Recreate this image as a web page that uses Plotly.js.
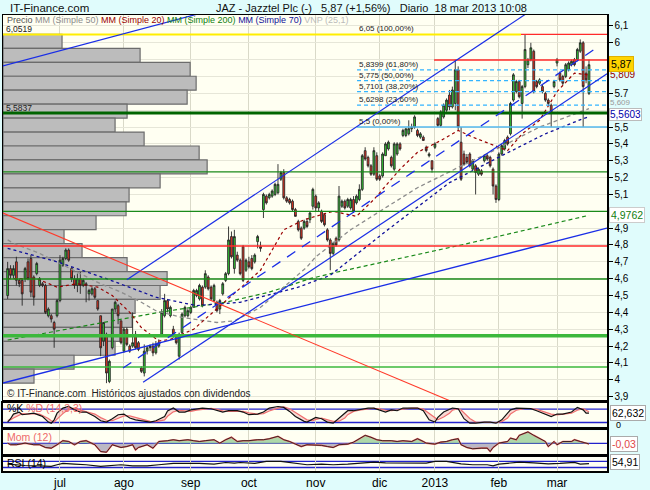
<!DOCTYPE html>
<html><head><meta charset="utf-8">
<script src="https://cdn.plot.ly/plotly-3.0.1.min.js"></script>
<style>html,body{margin:0;padding:0;background:#e0fcfc;overflow:hidden}#chart{width:650px;height:490px}</style>
</head><body><div id="chart"></div>
<script>
// ---------------- DATA ----------------
const firstDay = '2012-06-06', lastDay = '2013-03-18';
const marketHolidays = ['2012-12-25', '2012-12-26', '2013-01-01'];
const monthLabels = ['jul', 'ago', 'sep', 'oct', 'nov', 'dic', '2013', 'feb', 'mar'];

const open = [4.50,4.66,4.62,4.70,4.59,4.59,4.60,4.70,4.72,4.61, 4.63,4.56,4.57,4.56,4.38,4.38,4.34,4.38,4.47,4.68,
 4.72,4.77,4.66,4.60,4.56,4.60,4.56,4.57,4.51,4.51, 4.54,4.47,4.38,4.23,4.27,3.99,4.19,4.42,4.44,4.35,
 4.17,4.30,4.20,4.20,4.27,4.22,4.07,4.04,4.17,4.19, 4.20,4.16,4.20,4.27,4.38,4.47,4.38,4.30,4.26,4.14,
 4.28,4.38,4.38,4.40,4.43,4.50,4.48,4.55,4.55,4.61, 4.55,4.47,4.46,4.42,4.51,4.59,4.63,4.85,4.66,4.74,
 4.71,4.79,4.65,4.70,4.72,4.70,4.82,4.79,5.01,5.09, 5.08,5.09,5.10,5.11,5.19,5.23,5.08,5.07,5.06,5.01,
 4.94,4.90,4.90,4.94,4.95,5.03,5.09,5.02,5.00,4.98, 4.89,4.83,4.75,4.84,4.83,5.03,5.06,5.03,5.02,5.07,
 5.05,5.07,5.13,5.36,5.32,5.27,5.22,5.33,5.21,5.21, 5.33,5.37,5.32,5.25,5.34,5.40,5.45,5.45,5.46,5.49,
 5.50,5.48,5.44,5.44,5.38,5.33,5.30,5.38,5.55,5.51, 5.56,5.60,5.69,5.62,5.64,5.84,5.41,5.34,5.32,5.34,
 5.25,5.27,5.22,5.24,5.30,5.33,5.32,5.25,5.15,5.07, 5.34,5.37,5.44,5.46,5.66,5.71,5.77,5.64,5.74,5.87,
 5.90,5.95,5.77,5.76,5.74,5.70,5.66,5.63,5.74,5.88, 5.82,5.80,5.80,5.84,5.87,5.90,5.90,5.95,6.00,5.82,
 5.70];
const high = [4.70,4.68,4.68,4.73,4.60,4.60,4.67,4.72,4.74,4.62, 4.70,4.61,4.58,4.57,4.43,4.39,4.35,4.48,4.74,4.73,
 4.78,4.78,4.67,4.62,4.63,4.64,4.60,4.58,4.54,4.55, 4.55,4.47,4.38,4.34,4.28,4.12,4.42,4.47,4.45,4.35,
 4.31,4.31,4.21,4.40,4.29,4.23,4.08,4.21,4.20,4.21, 4.22,4.23,4.24,4.42,4.51,4.48,4.44,4.32,4.27,4.28,
 4.40,4.44,4.42,4.44,4.54,4.54,4.57,4.56,4.65,4.62, 4.56,4.57,4.47,4.48,4.58,4.64,4.91,4.88,4.89,4.76,
 4.72,4.80,4.72,4.73,4.74,4.75,4.86,4.82,5.11,5.10, 5.11,5.13,5.17,5.28,5.24,5.25,5.09,5.08,5.07,5.02,
 4.95,4.91,4.95,4.96,5.00,5.14,5.10,5.06,5.01,4.99, 4.90,4.84,4.82,4.85,5.15,5.07,5.07,5.08,5.08,5.09,
 5.10,5.16,5.34,5.38,5.33,5.28,5.38,5.35,5.22,5.35, 5.41,5.42,5.33,5.41,5.41,5.41,5.49,5.49,5.54,5.52,
 5.57,5.49,5.47,5.45,5.39,5.35,5.30,5.41,5.56,5.60, 5.64,5.67,5.72,5.74,5.90,5.86,5.50,5.36,5.34,5.35,
 5.31,5.28,5.26,5.25,5.34,5.34,5.33,5.26,5.16,5.35, 5.40,5.43,5.45,5.65,5.82,5.78,5.78,5.75,6.05,5.91,
 6.00,5.96,5.78,5.79,5.75,5.71,5.67,5.64,5.78,5.91, 5.83,5.81,5.88,5.89,5.90,5.91,5.97,6.02,6.01,5.86,
 5.90];
const low = [4.48,4.60,4.60,4.56,4.55,4.44,4.58,4.59,4.49,4.44, 4.62,4.55,4.55,4.39,4.37,4.34,4.19,4.37,4.46,4.67,
 4.71,4.70,4.58,4.54,4.52,4.51,4.55,4.46,4.47,4.50, 4.48,4.41,4.14,4.20,3.98,3.98,4.18,4.40,4.33,4.21,
 4.16,4.20,4.16,4.19,4.18,4.17,4.04,4.02,4.15,4.17, 4.14,4.15,4.19,4.26,4.37,4.40,4.37,4.25,4.21,4.12,
 4.27,4.37,4.37,4.39,4.43,4.49,4.47,4.43,4.54,4.53, 4.47,4.46,4.40,4.39,4.50,4.58,4.62,4.72,4.63,4.70,
 4.62,4.58,4.64,4.66,4.65,4.69,4.78,4.76,4.96,5.04, 5.07,5.08,5.09,5.10,5.18,5.07,5.05,5.04,5.00,4.97,
 4.88,4.83,4.89,4.90,4.93,5.01,5.00,5.00,4.93,4.91, 4.82,4.65,4.74,4.79,4.82,5.02,5.01,5.02,5.01,4.99,
 5.04,5.06,5.12,5.30,5.26,5.21,5.21,5.18,5.18,5.20, 5.33,5.36,5.26,5.24,5.33,5.36,5.44,5.44,5.45,5.47,
 5.49,5.44,5.43,5.42,5.35,5.32,5.23,5.37,5.50,5.50, 5.55,5.59,5.60,5.61,5.60,5.48,5.18,5.27,5.28,5.26,
 5.24,5.10,5.21,5.21,5.29,5.30,5.26,5.10,5.05,5.06, 5.33,5.36,5.39,5.45,5.65,5.70,5.67,5.55,5.73,5.85,
 5.89,5.70,5.73,5.75,5.70,5.65,5.63,5.50,5.73,5.86, 5.77,5.75,5.79,5.83,5.86,5.86,5.89,5.94,5.50,5.76,
 5.69];
const close = [4.66,4.62,4.66,4.59,4.57,4.51,4.66,4.60,4.52,4.49, 4.69,4.60,4.56,4.40,4.42,4.36,4.30,4.47,4.71,4.72,
 4.77,4.71,4.60,4.56,4.60,4.56,4.59,4.56,4.53,4.54, 4.49,4.42,4.19,4.34,4.04,4.11,4.42,4.46,4.38,4.22,
 4.30,4.21,4.17,4.22,4.19,4.18,4.05,4.17,4.19,4.20, 4.16,4.21,4.22,4.40,4.47,4.42,4.43,4.27,4.22,4.27,
 4.39,4.43,4.41,4.43,4.53,4.53,4.56,4.44,4.63,4.54, 4.48,4.56,4.41,4.47,4.57,4.63,4.83,4.73,4.85,4.71,
 4.63,4.59,4.71,4.67,4.66,4.74,4.85,4.78,5.10,5.05, 5.10,5.12,5.16,5.16,5.23,5.08,5.06,5.05,5.01,4.97,
 4.89,4.84,4.94,4.91,4.99,5.13,5.02,5.05,4.94,4.92, 4.83,4.75,4.81,4.80,5.09,5.06,5.02,5.07,5.07,5.00,
 5.09,5.13,5.33,5.31,5.27,5.22,5.36,5.19,5.19,5.34, 5.40,5.41,5.27,5.40,5.40,5.37,5.48,5.49,5.49,5.50,
 5.56,5.45,5.46,5.42,5.36,5.34,5.25,5.40,5.51,5.59, 5.63,5.66,5.62,5.72,5.84,5.50,5.19,5.28,5.29,5.27,
 5.30,5.23,5.25,5.22,5.33,5.31,5.27,5.15,5.07,5.34, 5.39,5.42,5.40,5.64,5.81,5.77,5.68,5.74,5.96,5.90,
 5.97,5.71,5.74,5.78,5.71,5.66,5.64,5.59,5.77,5.90, 5.78,5.76,5.87,5.88,5.89,5.87,5.96,6.00,5.74,5.78,
 5.87];

// Moving averages (trading-day number, value)
const ma20Days = [0,10,17,24,31,36,42,46,52,56,64,77,87,95,102,112,120,126,135,141,149,155,160,166,172,177,183,189,195,200];
const ma20Vals = [4.60,4.60,4.55,4.57,4.55,4.50,4.40,4.31,4.23,4.24,4.30,4.50,4.65,4.89,4.95,5.00,4.97,5.07,5.25,5.35,5.42,5.48,5.44,5.40,5.36,5.46,5.54,5.71,5.82,5.809];
const ma50Days = [0,2,11,25,32,39,46,51,60,72,78,87,95,103,106,118,129,141,155,166,183,199,200];
const ma50Vals = [4.83,4.81,4.75,4.63,4.57,4.52,4.46,4.41,4.37,4.34,4.35,4.43,4.55,4.67,4.73,4.89,5.01,5.14,5.26,5.35,5.50,5.60,5.609];
const ma70Days = [0,17,34,51,65,80,100,111,130,149,152,170,185,198,200];
const ma70Vals = [4.78,4.70,4.60,4.49,4.44,4.46,4.55,4.62,4.88,5.13,5.17,5.33,5.46,5.55,5.5603];
const ma200Days = [0,52,75,90,104,112,156,200];
const ma200Vals = [4.236,4.40,4.46,4.52,4.60,4.634,4.80,4.9762];

// Volume-by-price (VNP 25 bins, top bin first)
const vnpVolume = [5.9,13.7,18.7,19.3,18.4,12.4,11.2,14.1,19.6,20.4,15.7,12.6,12.3,9.3,6.1,7.9,12.4,16.4,15.7,13.2,12.9,11.7,11.2,7.1,3.1];

// Drawn trend lines: two anchors each (trading day, price)
const upperLeftDays = [0, 50],   upperLeftPrices = [5.870, 6.100];
const upperChanDays = [41, 144], upperChanPrices = [4.593, 5.777];
const lowerChanDays = [47, 200], lowerChanPrices = [3.990, 5.745];
const midChanDays   = [40, 200], midChanPrices   = [4.073, 5.940];
const baseLineDays  = [0, 200],  baseLinePrices  = [3.988, 4.873];
const downLineDays  = [0, 150],  downLinePrices  = [4.978, 3.891];

// Horizontal levels
const levelPrices = [5.5837, 5.2335, 5.0, 4.794, 4.598, 4.262, 4.076];
const resistPrice = 5.898, resistStartDay = 146.7;
const fibHigh = 6.05, fibLow = 5.5, fibStartDay = 120.2, fibHighSplitDay = 176.6;
const fibRatios = [0.618, 0.5, 0.382, 0.236];
const leftMarks = [6.0519, 5.5837];

// Indicators
const stochDays = [0,1,2,4,5,7,9,11,12,14,15,16,17,19,21,23,25,27,30,32,34,36,38,40,42,44,47,49,51,54,55,57,59,61,63,65,67,70,72,74,76,79,81,83,86,88,90,93,95,97,99,102,103,105,106,108,110,112,114,116,117,119,121,124,126,128,130,132,134,136,139,141,143,145,147,148,150,152,153,155,156,157,159,161,164,166,168,170,172,173,175,178,180,182,184,187,189,191,194,196,198,199,200];
const stochK = [22,37,58,66,55,58,62,52,47,22,17,32,62,85,92,77,67,67,47,28,22,37,55,58,40,32,25,22,28,47,72,85,67,67,77,80,85,82,73,67,73,73,67,55,58,67,85,92,88,70,47,25,22,37,43,37,22,17,40,62,73,73,77,85,85,77,67,77,73,85,85,85,73,32,22,43,67,77,85,82,62,37,17,17,22,22,17,32,62,77,85,82,82,73,62,47,58,58,67,88,77,62,62.632];
const stochD = [30,32,40,52,60,58,60,58,52,38,28,22,35,60,80,85,76,68,58,42,30,28,38,50,50,42,32,25,24,32,48,68,75,72,70,76,80,84,79,72,70,72,70,63,58,60,72,85,90,82,65,42,32,28,34,40,33,25,26,40,55,70,75,80,84,82,75,73,75,80,85,85,80,60,38,32,45,62,75,82,76,62,38,22,20,21,20,24,40,58,75,83,83,79,70,58,54,56,62,75,82,75,68];
const momDays = [0,1,3,4,6,9,11,13,15,17,19,21,23,25,27,30,32,34,35,36,39,41,43,44,45,48,50,52,55,57,59,62,64,66,68,71,73,75,77,79,81,83,86,88,90,93,95,97,99,101,103,105,108,110,112,114,117,119,121,123,125,127,129,132,134,136,139,141,143,144,147,149,151,153,155,156,158,160,163,165,166,167,169,172,173,175,176,179,181,183,185,186,188,189,191,194,195,197,199,200];
const momVals = [0.02,-0.08,-0.08,-0.04,0.02,-0.08,-0.08,-0.25,-0.29,-0.08,0.17,0.12,-0.08,0.12,0.17,-0.08,-0.50,-0.54,-0.29,-0.08,-0.25,-0.19,-0.08,-0.40,-0.25,-0.08,-0.29,0.12,0.17,0.23,0.17,0.23,0.17,0.12,0.17,0.23,0.02,0.23,0.38,0.12,0.17,0.17,0.23,0.23,0.29,0.44,0.23,0.12,-0.04,-0.19,-0.08,-0.08,-0.12,-0.19,-0.25,-0.08,-0.04,0.08,0.29,0.50,0.38,0.23,0.17,0.17,0.12,0.17,0.12,0.29,0.12,0.02,-0.04,0.08,0.12,0.23,0.29,-0.08,-0.25,-0.33,-0.29,-0.29,-0.50,-0.25,0.02,0.12,0.33,0.23,0.50,0.71,0.50,0.33,0.12,-0.19,0.12,-0.08,0.12,0.12,0.23,0.12,0.02,-0.03];
const rsiDays = [0,2,6,11,15,17,19,23,27,32,35,39,43,48,52,57,62,66,71,75,78,80,85,89,94,98,103,108,112,117,121,126,130,135,140,144,147,151,156,160,165,167,169,173,176,181,186,190,195,197,200];
const rsiVals = [52,48,43,41,37,48,57,52,48,37,43,48,41,41,48,57,57,57,52,63,59,63,57,70,70,59,48,52,48,52,59,65,61,59,57,59,70,70,54,48,48,41,52,59,65,61,54,57,63,52,54.91];

// ---------------- BUILD ----------------
function buildDays() {
  const out = []; let d = new Date(firstDay + 'T12:00:00Z'); const end = new Date(lastDay + 'T12:00:00Z');
  while (d <= end) { const wd = d.getUTCDay(); const s = d.toISOString().slice(0, 10);
    if (wd !== 0 && wd !== 6 && !marketHolidays.includes(s)) out.push(s);
    d = new Date(d.getTime() + 86400000); }
  return out;
}
const dates = buildDays();
const dayIdx = dates.map((_, i) => i);
const monthTicks = [];
for (let i = 1; i < dates.length; i++) if (dates[i].slice(5, 7) !== dates[i - 1].slice(5, 7)) monthTicks.push(i);

const W = 650, H = 490;
const px = v => v / W, py = v => 1 - v / H;
const FONT = 'Liberation Sans, Arial, sans-serif';
const xRange = [-1.6, 206.2];
const fmt = v => String(+(+v).toFixed(4)).replace('.', ',');
const last = a => a[a.length - 1];

const traces = [];
// VNP bars
const pMax = Math.max(...high), pMin = Math.min(...low);
const binH = (pMax - pMin) / vnpVolume.length;
const vMax = Math.max(...vnpVolume), span = xRange[1] - xRange[0];
traces.push({type: 'bar', orientation: 'h', x: vnpVolume.map(v => v / vMax * 0.338 * span),
  y: vnpVolume.map((_, k) => pMax - binH * (k + 0.5)), base: xRange[0], width: binH,
  marker: {color: '#bcbcbc', line: {color: '#6c6c6c', width: 1.2}}, xaxis: 'x', yaxis: 'y', hoverinfo: 'skip'});
// candles
traces.push({type: 'candlestick', x: dayIdx, open, high, low, close, xaxis: 'x', yaxis: 'y', whiskerwidth: 0,
  increasing: {line: {color: '#262626', width: 0.9}, fillcolor: '#33cc33'},
  decreasing: {line: {color: '#262626', width: 0.9}, fillcolor: '#ee3322'}, hoverinfo: 'skip'});

function addLine(x, y, color, width, dash, ax, ay) {
  traces.push({type: 'scatter', mode: 'lines', x, y, line: {color, width, dash: dash || 'solid'},
    xaxis: ax || 'x', yaxis: ay || 'y', hoverinfo: 'skip'});
}
function through(days, prices, x0, x1) {
  const m = (prices[1] - prices[0]) / (days[1] - days[0]);
  return [[x0, x1], [prices[0] + m * (x0 - days[0]), prices[0] + m * (x1 - days[0])]];
}
// MAs
addLine(ma200Days, ma200Vals, '#1a8a1a', 1.2, '4px,3px');
addLine(ma50Days, ma50Vals, '#8c8c8c', 1.3, '4px,3px');
addLine(ma70Days, ma70Vals, '#10109a', 1.3, '3px,3px');
addLine(ma20Days, ma20Vals, '#990000', 1.2, '3px,3px');
// horizontal levels
const levelColors = ['#006400', '#1a8a1a', '#1a8a1a', '#ff2a2a', '#1a8a1a', '#3cb83c', '#3cb83c'];
const levelWidths = [3, 1.3, 1.3, 1.3, 1.3, 3.5, 1.5];
levelPrices.forEach((p, k) => addLine(xRange, [p, p], levelColors[k], levelWidths[k]));
addLine([xRange[0], fibHighSplitDay], [fibHigh, fibHigh], '#ffee00', 2);
addLine([fibHighSplitDay, xRange[1]], [fibHigh, fibHigh], '#ff2a2a', 1.4);
addLine([resistStartDay, xRange[1]], [resistPrice, resistPrice], '#ff2a2a', 1.3);
fibRatios.forEach(r => { const p = fibLow + (fibHigh - fibLow) * r; addLine([fibStartDay, xRange[1]], [p, p], '#33b4ff', 1.2, '4px,3px'); });
addLine([fibStartDay, xRange[1]], [fibLow, fibLow], '#55b8ee', 1.5);
// trend lines
let t;
t = through(upperLeftDays, upperLeftPrices, xRange[0], 90); addLine(t[0], t[1], '#1a2ee6', 1.2);
t = through(upperChanDays, upperChanPrices, 41, 200); addLine(t[0], t[1], '#1a2ee6', 1.2);
t = through(lowerChanDays, lowerChanPrices, 46.6, xRange[1]); addLine(t[0], t[1], '#1a2ee6', 1.2);
t = through(midChanDays, midChanPrices, 39.7, 201.5); addLine(t[0], t[1], '#1a2ee6', 1.3, '10px,8px');
t = through(baseLineDays, baseLinePrices, xRange[0], xRange[1]); addLine(t[0], t[1], '#1a2ee6', 1.4);
t = through(downLineDays, downLinePrices, xRange[0], 170); addLine(t[0], t[1], '#ff3a2a', 1.1);

// stochastic
addLine(stochDays, stochD, '#f07070', 1.2, 'solid', 'x2', 'y2');
traces.push({type: 'scatter', mode: 'lines', x: stochDays, y: stochK, fill: 'tonexty', fillcolor: 'rgba(235,150,155,0.35)',
  line: {color: '#111', width: 1.2}, xaxis: 'x2', yaxis: 'y2', hoverinfo: 'skip'});
// momentum
traces.push({type: 'scatter', mode: 'lines', x: momDays, y: momVals.map(v => Math.max(v, 0)), fill: 'tozeroy',
  fillcolor: 'rgba(140,200,140,0.7)', line: {width: 0}, xaxis: 'x3', yaxis: 'y3', hoverinfo: 'skip'});
traces.push({type: 'scatter', mode: 'lines', x: momDays, y: momVals.map(v => Math.min(v, 0)), fill: 'tozeroy',
  fillcolor: 'rgba(165,160,180,0.75)', line: {width: 0}, xaxis: 'x3', yaxis: 'y3', hoverinfo: 'skip'});
addLine(momDays, momVals, '#ee6666', 1.6, 'solid', 'x3', 'y3');
addLine(momDays, momVals, '#111', 0.8, 'solid', 'x3', 'y3');
// RSI
addLine(rsiDays, rsiVals, '#111', 1.2, 'solid', 'x4', 'y4');

// ---------------- LAYOUT ----------------
const priceTicks = []; for (let k = 39; k <= 61; k++) priceTicks.push(k / 10);
const rightValues = [last(close), last(ma20Vals), last(ma50Vals), last(ma70Vals), last(ma200Vals)];
const priceTickText = priceTicks.map(v => rightValues.some(r => Math.abs(r - v) < 0.035) ? '' : fmt(v));
const commonX = {type: 'linear', range: xRange, tickvals: monthTicks, ticktext: monthLabels, showgrid: true,
  gridcolor: '#d9d9c8', zeroline: false, showline: true, mirror: true, linecolor: '#000', ticks: '',
  showticklabels: false, fixedrange: true, domain: [px(3), px(607)]};
const subY = {showticklabels: false, showgrid: false, zeroline: false, showline: true, mirror: true, linecolor: '#000', linewidth: 2, fixedrange: true};

const ann = [];
function A(text, x, y, o) { ann.push(Object.assign({text, x, y, xref: 'paper', yref: 'paper', showarrow: false,
  xanchor: 'left', yanchor: 'middle', font: {family: FONT, size: 11, color: '#000'}}, o || {})); }
const chg = ((last(close) / close[close.length - 2] - 1) * 100).toFixed(2).replace('.', ',');
A('IT-Finance.com', px(8), py(8), {font: {family: FONT, size: 11.5, color: '#111'}});
A('JAZ - Jazztel Plc (-)\u00a0\u00a0\u00a0' + fmt(last(close)) + ' (+' + chg + '%)\u00a0\u00a0\u00a0Diario\u00a0\u00a018 mar 2013 10:08', px(214), py(8), {font: {family: FONT, size: 11, color: '#111'}});
A('<span style="color:#555">Precio</span> <span style="color:#8c8c8c">MM (Simple 50)</span> <span style="color:#990000">MM (Simple 20)</span> <span style="color:#108010">MM (Simple 200)</span> <span style="color:#10109a">MM (Simple 70)</span> <span style="color:#bbbbbb">VNP (25,1)</span>', px(6), py(19.5), {borderpad: 0, font: {family: FONT, size: 9}});
A('© IT-Finance.com\u00a0\u00a0Históricos ajustados con dividendos', px(5), py(393), {font: {family: FONT, size: 10, color: '#222'}});
A('%K <span style="color:#ee6a6a">%D (14,3,3)</span>', px(6), py(408), {borderpad: 0, font: {family: FONT, size: 10.5}});
A('Mom (12)', px(6), py(437), {borderpad: 0, font: {family: FONT, size: 10.5, color: '#ee6a6a'}});
A('RSI (14)', px(6), py(463), {borderpad: 0, font: {family: FONT, size: 10.5}});
A(fmt(last(stochK)), px(610), py(413), {bgcolor: '#fff', bordercolor: '#aaa', borderwidth: 1, borderpad: 1, font: {family: FONT, size: 10.5}});
A('0', px(615), py(424.5), {borderpad: 0, font: {family: FONT, size: 9}});
A(fmt(last(momVals)), px(610), py(444), {bgcolor: '#fff', bordercolor: '#aaa', borderwidth: 1, borderpad: 1, font: {family: FONT, size: 10.5, color: '#e04848'}});
A(fmt(last(rsiVals)), px(610), py(462), {bgcolor: '#fff', bordercolor: '#aaa', borderwidth: 1, borderpad: 1, font: {family: FONT, size: 10.5}});
// right value boxes on price axis
function R(v, color, bg, border, size, shift, pad) { ann.push({text: fmt(v), x: px(609), xref: 'paper', y: v, yref: 'y', showarrow: false,
  xanchor: 'left', yanchor: 'middle', yshift: shift || 0, bgcolor: bg, bordercolor: border || bg, borderwidth: 1, borderpad: pad === undefined ? 1 : pad,
  font: {family: FONT, size: size || 10.5, color}}); }
R(last(ma50Vals), '#999', '#e0fcfc', null, 8, 6, 0);
R(last(ma70Vals), '#0000aa', '#fff', '#bbb', 10, 2.5, 0);
R(last(ma20Vals), '#990000', '#e0fcfc', null, 10, 0, 0);
R(last(close), '#000', '#ffd400', '#e0b000', 10.5, 1, 1);
R(last(ma200Vals), '#108010', '#fff', '#ccc', 10.5, 0, 1);
// left marks
leftMarks.forEach(v => ann.push({text: fmt(v), x: px(5), xref: 'paper', y: v, yref: 'y', showarrow: false,
  xanchor: 'left', yanchor: 'bottom', yshift: -1, borderpad: 0, font: {family: FONT, size: 8.5, color: '#222'}}));
// fib labels
[1].concat(fibRatios).concat([0]).forEach(r => { const p = fibLow + (fibHigh - fibLow) * r;
  ann.push({text: fmt(p) + ' (' + (r * 100).toFixed(2).replace('.', ',') + '%)', x: fibStartDay, xref: 'x', y: p, yref: 'y',
    showarrow: false, xanchor: 'left', yanchor: 'bottom', xshift: 1, yshift: 0, borderpad: 0, font: {family: FONT, size: 8, color: '#222'}}); });

const hl = (yref, v) => ({type: 'line', xref: yref.replace('y', 'x') + ' domain', x0: 0, x1: 1, yref, y0: v, y1: v,
  line: {color: '#2222cc', width: 1.3}, layer: 'below'});

const layout = {
  width: W, height: H, margin: {l: 0, r: 0, t: 0, b: 0}, paper_bgcolor: '#e0fcfc', plot_bgcolor: '#fffff2',
  showlegend: false, hovermode: false, font: {family: FONT, size: 11, color: '#000'}, separators: ',.',
  boxgap: 0.12,
  xaxis: Object.assign({}, commonX, {anchor: 'y', linewidth: 1.5, rangeslider: {visible: false}}),
  yaxis: {domain: [py(400), py(15)], range: [3.88, 6.165], anchor: 'x', side: 'right', tickvals: priceTicks,
    ticktext: priceTickText, ticks: 'outside', ticklen: 4, tickcolor: '#000', tickfont: {size: 10},
    showgrid: true, gridcolor: '#e6e6d8', zeroline: false, showline: true, mirror: true, linecolor: '#000', linewidth: 1.5, fixedrange: true},
  xaxis2: Object.assign({}, commonX, {anchor: 'y2', matches: 'x', linewidth: 2}),
  yaxis2: Object.assign({}, subY, {domain: [py(426.5), py(402.5)], range: [2, 110], anchor: 'x2'}),
  xaxis3: Object.assign({}, commonX, {anchor: 'y3', matches: 'x', linewidth: 2}),
  yaxis3: Object.assign({}, subY, {domain: [py(454), py(430.3)], range: [-0.65, 0.81], anchor: 'x3'}),
  xaxis4: Object.assign({}, commonX, {anchor: 'y4', matches: 'x', linewidth: 2, showticklabels: true, tickfont: {size: 12, color: '#000'}}),
  yaxis4: Object.assign({}, subY, {domain: [py(471), py(457)], range: [7, 99], anchor: 'x4'}),
  shapes: [hl('y2', 80), hl('y2', 20), hl('y3', 0), hl('y4', 70), hl('y4', 30)],
  annotations: ann
};
Plotly.newPlot('chart', traces, layout, {staticPlot: true, displayModeBar: false});
</script></body></html>
